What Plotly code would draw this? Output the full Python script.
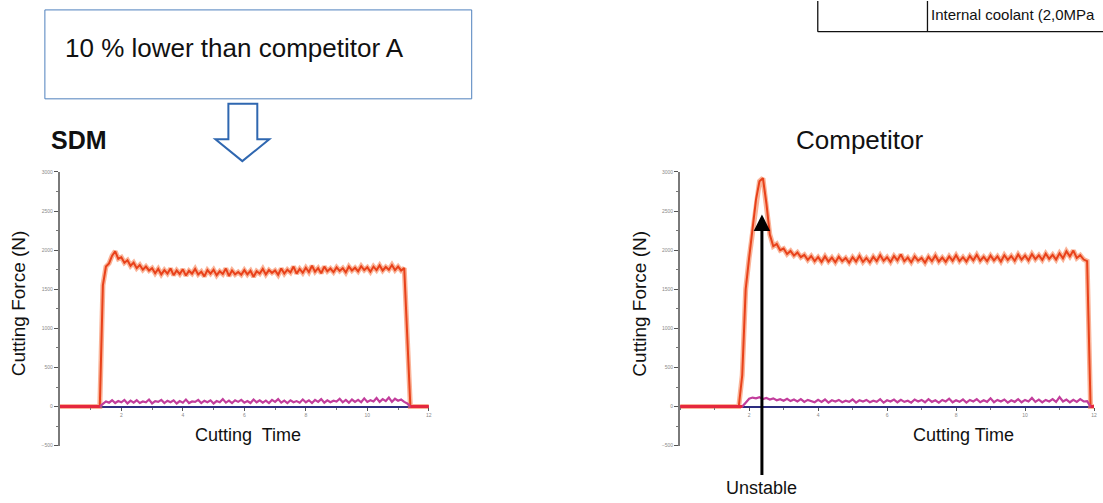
import plotly.graph_objects as go

W, H = 1103, 503

# ---------------- data ----------------
# sampling grid of the force recordings, seconds
sample_time_s = [round(i * 0.1, 1) for i in range(121)]

sdm_force_main = (
    [0] * 14 +
    [1550, 1790, 1830, 1930, 1985, 1890, 1910, 1840, 1870, 1800, 1840, 1770, 1810, 1750, 1790, 1740] +
    [1770, 1705, 1760, 1690, 1745, 1700, 1765, 1680, 1740, 1695,
     1755, 1675, 1735, 1700, 1760, 1690, 1725, 1665, 1745, 1700,
     1750, 1680, 1730, 1695, 1765, 1670, 1740, 1690, 1720, 1685,
     1745, 1690, 1735, 1660, 1730, 1700, 1760, 1690, 1745, 1710,
     1740, 1685, 1765, 1700, 1750, 1715, 1790, 1700, 1760, 1710,
     1775, 1720, 1800, 1725, 1770, 1705, 1790, 1730, 1765, 1720,
     1780, 1735, 1770, 1715, 1790, 1740, 1775, 1730, 1795, 1745,
     1780, 1725, 1790, 1745, 1805, 1740, 1785, 1750, 1810, 1745,
     1790, 1740, 1770] +
    [850, 0] + [0] * 6
)

sdm_force_side = (
    [0] * 14 +
    [35, 65, 50, 80, 45, 70, 55, 85, 40, 75,
     50, 80, 45, 65, 55, 90, 40, 70, 60, 85,
     45, 75, 55, 80, 40, 70, 50, 90, 45, 65,
     60, 85, 45, 75, 55, 80, 40, 70, 55, 95,
     50, 75, 45, 80, 60, 85, 50, 70, 45, 90,
     55, 80, 50, 75, 45, 85, 60, 95, 50, 75,
     45, 80, 55, 70, 50, 90, 55, 80, 45, 85,
     60, 95, 50, 80, 55, 75, 65, 100, 55, 85,
     50, 90, 60, 85, 55, 105, 60, 80, 65, 110,
     60, 95, 70, 115, 60, 100, 75, 90, 60, 40] +
    [0] * 7
)

comp_force_main = (
    [0] * 18 +
    [400, 1500, 1900, 2250, 2650, 2880, 2920, 2600, 2200, 2050, 2080, 2000, 2020, 1950, 1990, 1930, 1970, 1910] +
    [1940, 1875, 1925, 1860, 1910, 1850, 1920, 1855, 1905, 1845,
     1915, 1860, 1900, 1840, 1910, 1855, 1925, 1850, 1900, 1845,
     1915, 1860, 1935, 1865, 1910, 1850, 1925, 1870, 1945, 1860,
     1905, 1845, 1920, 1865, 1900, 1840, 1915, 1860, 1930, 1855,
     1905, 1850, 1920, 1865, 1935, 1860, 1910, 1855, 1925, 1870,
     1940, 1865, 1915, 1860, 1930, 1870, 1920, 1855, 1935, 1875,
     1925, 1865, 1945, 1880, 1930, 1870, 1950, 1885, 1935, 1875,
     1955, 1890, 1940, 1880, 1960, 1895, 1985, 1920, 1995, 1900,
     1935, 1880] +
    [1860, 0, 0]
)

comp_force_side = (
    [0] * 19 +
    [50, 100, 115, 105, 120, 95, 110, 90, 105, 80,
     95, 75, 100, 70, 90, 65, 95, 60, 85, 70,
     55, 85, 60, 90, 50, 80, 65, 85, 55, 75,
     60, 90, 50, 80, 65, 85, 55, 75, 60, 95,
     50, 80, 65, 90, 55, 85, 60, 75, 50, 90,
     65, 85, 55, 95, 60, 80, 50, 85, 65, 100,
     55, 80, 60, 90, 50, 85, 65, 95, 55, 80,
     60, 105, 55, 85, 65, 90, 50, 80, 60, 95,
     55, 85, 65, 110, 60, 90, 55, 85, 65, 95,
     60, 120, 65, 90, 55, 85, 60, 95, 65, 70] +
    [0, 0]
)

# idle (no cut) portions of the main channel, drawn red
sdm_idle_time = [0, 1.3, None, 11.4, 12]
sdm_idle_force = [0, 0, None, 0, 0]
comp_idle_time = [0, 1.8, None, 11.9, 12]
comp_idle_force = [0, 0, None, 0, 0]

y_ticks = [-500, 0, 500, 1000, 1500, 2000, 2500, 3000]
x_ticks = [2, 4, 6, 8, 10, 12]

# ---------------- helpers ----------------
def px(x):
    return x / W

def py(y):
    return 1 - y / H

FONT = "Arial, Liberation Sans, sans-serif"
MAIN_C = "#e8411a"
EDGE_C = "rgba(246,130,85,0.6)"
SIDE_C = "#c23d9c"
IDLE_C = "#e5283e"

fig = go.Figure()

def add_panel(xa, ya, t_main, f_main, f_side, t_idle, f_idle):
    fig.add_trace(go.Scatter(x=t_main, y=f_main, mode="lines", xaxis=xa, yaxis=ya,
                             line=dict(color=EDGE_C, width=5), hoverinfo="skip", showlegend=False))
    fig.add_trace(go.Scatter(x=t_main, y=f_main, mode="lines", xaxis=xa, yaxis=ya,
                             line=dict(color=MAIN_C, width=2), showlegend=False))
    fig.add_trace(go.Scatter(x=t_main, y=f_side, mode="lines", xaxis=xa, yaxis=ya,
                             line=dict(color=SIDE_C, width=2.2), showlegend=False))
    fig.add_trace(go.Scatter(x=t_idle, y=f_idle, mode="lines", xaxis=xa, yaxis=ya,
                             line=dict(color=IDLE_C, width=3), showlegend=False))

add_panel("x", "y", sample_time_s, sdm_force_main, sdm_force_side, sdm_idle_time, sdm_idle_force)
add_panel("x2", "y2", sample_time_s, comp_force_main, comp_force_side, comp_idle_time, comp_idle_force)

tickfont = dict(family=FONT, size=5, color="#8a8a8a")

def yaxis_cfg(xa):
    return dict(domain=[py(448), py(171)], range=[-500, 3000], anchor=xa,
                tickvals=y_ticks, ticks="outside", ticklen=4, tickwidth=1, tickcolor="#555",
                tickfont=tickfont, showgrid=False,
                showline=True, linecolor="#7a7a7a", linewidth=2,
                zeroline=True, zerolinecolor="#2d2d80", zerolinewidth=2,
                minor=dict(ticks="outside", ticklen=2, tickcolor="#777", dtick=250, tick0=0, showgrid=False))

def xaxis_cfg():
    return dict(range=[0, 12], anchor="free", position=py(408.4),
                tickvals=x_ticks, ticks="outside", ticklen=3, tickwidth=1, tickcolor="#555",
                tickfont=tickfont, showgrid=False, showline=False, zeroline=False,
                minor=dict(ticks="outside", ticklen=2, tickcolor="#777", dtick=1, tick0=0, showgrid=False))

fig.update_layout(
    width=W, height=H, margin=dict(l=0, r=0, t=0, b=0),
    paper_bgcolor="white", plot_bgcolor="white",
    xaxis=dict(domain=[px(60), px(430)], **xaxis_cfg()),
    yaxis=yaxis_cfg("x"),
    xaxis2=dict(domain=[px(682), px(1097)], **xaxis_cfg()),
    yaxis2=yaxis_cfg("x2"),
)

shapes = []
# callout box
shapes.append(dict(type="rect", xref="paper", yref="paper",
                   x0=px(45), x1=px(473), y0=py(97), y1=py(7),
                   line=dict(color="#4f81bd", width=1), fillcolor="white"))
# hollow down arrow
pts = [(229, 102), (258, 102), (258, 138), (270, 138), (243, 160), (216, 138), (229, 138)]
path = "M " + " L ".join(f"{px(a):.5f},{py(b):.5f}" for a, b in pts) + " Z"
shapes.append(dict(type="path", xref="paper", yref="paper", path=path,
                   line=dict(color="#2f67b0", width=2), fillcolor="white"))
# partial table in top-right corner
for x0, y0, x1, y1 in [(820, -2, 820, 29), (930, -2, 930, 29), (820, 29, 1110, 29)]:
    shapes.append(dict(type="line", xref="paper", yref="paper",
                       x0=px(x0), x1=px(x1), y0=py(y0), y1=py(y1),
                       line=dict(color="#111", width=1.3)))
fig.update_layout(shapes=shapes)

def txt(text, x, y, size, xanchor="center", bold=False, angle=0, color="#111"):
    return dict(text=f"<b>{text}</b>" if bold else text, x=px(x), y=py(y),
                xref="paper", yref="paper", xanchor=xanchor, yanchor="middle",
                showarrow=False, textangle=angle,
                font=dict(family=FONT, size=size, color=color))

annotations = [
    txt("10 % lower than competitor A", 63, 46, 26, xanchor="left"),
    txt("SDM", 49, 139, 25, xanchor="left", bold=True),
    txt("Competitor", 862, 139, 26),
    txt("Cutting Force (N)", 18, 304, 19, angle=-90),
    txt("Cutting Force (N)", 641, 304, 19, angle=-90),
    txt("Cutting\u00a0 Time", 249, 437, 18),
    txt("Cutting Time", 966, 437, 18),
    txt("Unstable", 764, 491, 18),
    txt("Internal coolant (2,0MPa", 932, 12, 15, xanchor="left"),
    dict(text="", x=px(764), y=py(214), xref="paper", yref="paper",
         showarrow=True, ax=0, ay=262, arrowhead=2, arrowsize=1.1, arrowwidth=3,
         arrowcolor="#000", standoff=0),
]
fig.update_layout(annotations=annotations)

fig.write_html(
    "out.html",
    config={"displayModeBar": False},
    post_script="document.body.style.margin='0px';document.body.style.padding='0px';"
                "document.body.style.overflow='hidden';",
)
